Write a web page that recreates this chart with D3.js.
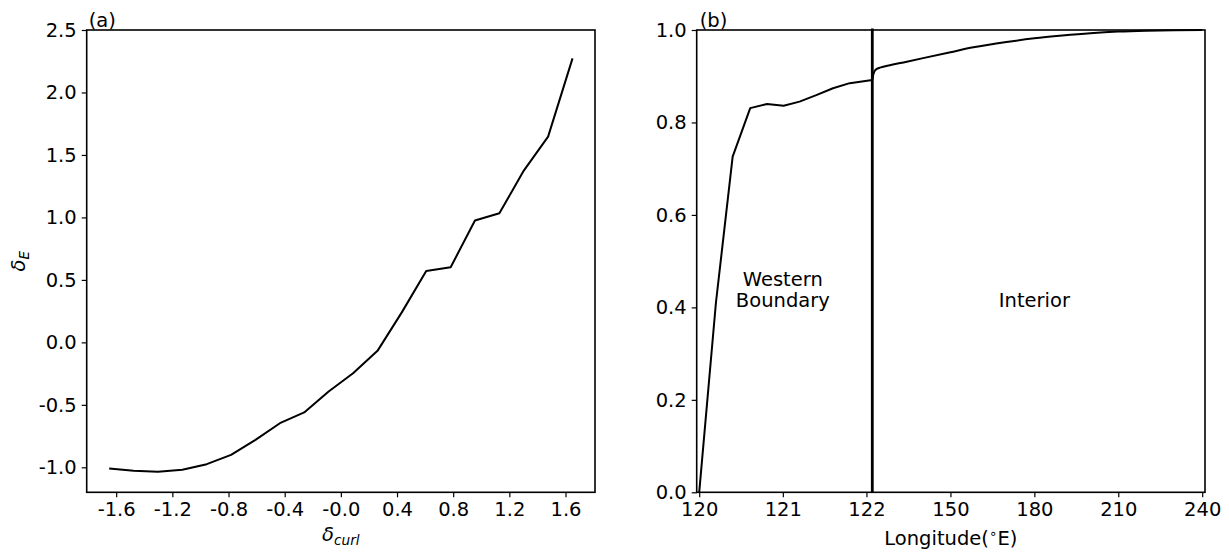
<!DOCTYPE html>
<html>
<head>
<meta charset="utf-8">
<script src="https://cdn.jsdelivr.net/npm/d3@7"></script>
<style>
  html, body { margin: 0; padding: 0; background: #fff; }
  svg { display: block; font-family: "DejaVu Sans", sans-serif; }
</style>
</head>
<body>
<svg id="fig" width="1229" height="552"></svg>
<script>
// ---- panel (a): delta_E against delta_curl ----
const curlValues = [-1.65, -1.476, -1.303, -1.129, -0.955, -0.782, -0.608, -0.434, -0.261, -0.087,
                    0.087, 0.261, 0.434, 0.608, 0.782, 0.955, 1.129, 1.303, 1.476, 1.65];
const deltaE = [-1.01, -1.028, -1.036, -1.02, -0.975, -0.90, -0.78, -0.647, -0.561, -0.393,
                -0.247, -0.068, 0.24, 0.572, 0.601, 0.975, 1.033, 1.375, 1.647, 2.273];
const curlTicks = [-1.6, -1.2, -0.8, -0.4, 0, 0.4, 0.8, 1.2, 1.6];
const curlTickLabels = ["-1.6", "-1.2", "-0.8", "-0.4", "-0.0", "0.4", "0.8", "1.2", "1.6"];
const deltaETicks = [-1.0, -0.5, 0.0, 0.5, 1.0, 1.5, 2.0, 2.5];
const deltaETickLabels = ["-1.0", "-0.5", "0.0", "0.5", "1.0", "1.5", "2.0", "2.5"];

// ---- panel (b): fraction along longitude ----
const westLon  = [120.0, 120.2, 120.4, 120.61, 120.81, 121.01, 121.2, 121.4, 121.6, 121.8, 122.07];
const westFrac = [0.0, 0.41, 0.726, 0.831, 0.840, 0.836, 0.845, 0.859, 0.874, 0.885, 0.892];
const interiorLon  = [122.07, 122.4, 122.8, 123.6, 124.8, 126, 134.4, 150, 158.2, 170, 180, 190, 200, 210, 220, 230, 240];
const interiorFrac = [0.892, 0.903, 0.910, 0.9155, 0.9185, 0.9205, 0.9315, 0.952, 0.9625, 0.974, 0.982, 0.988, 0.993, 0.9965, 0.9985, 0.9996, 1.0];
const boundaryLon = 122.07;
const lonTicks = [120, 121, 122, 150, 180, 210, 240];
const fracTicks = [0.0, 0.2, 0.4, 0.6, 0.8, 1.0];
const fracTickLabels = ["0.0", "0.2", "0.4", "0.6", "0.8", "1.0"];

const FS = 19.5;        // text size
const TICK = 5;         // tick length
const PAD = 5;          // tick label padding
const svg = d3.select("#fig");

const boxA = { left: 86.7, right: 595, top: 30, bottom: 492.3 };
const boxB = { left: 696.7, right: 1205, top: 30, bottom: 492.3 };

function styleAxis(g) {
  g.select(".domain").remove();
  g.selectAll(".tick line").attr("stroke", "#000").attr("stroke-width", 1.2);
  g.selectAll(".tick text")
    .attr("fill", "#000")
    .attr("font-size", FS)
    .attr("font-family", "DejaVu Sans, sans-serif");
  g.attr("font-size", null).attr("font-family", null);
}

function spines(box) {
  svg.append("rect")
    .attr("x", box.left).attr("y", box.top)
    .attr("width", box.right - box.left).attr("height", box.bottom - box.top)
    .attr("fill", "none").attr("stroke", "#000").attr("stroke-width", 1.6);
}

// ================= (a) =================
const xA = d3.scaleLinear().domain([-1.81, 1.81]).range([boxA.left, boxA.right]);
const yA = d3.scaleLinear().domain([-1.2, 2.5]).range([boxA.bottom, boxA.top]);

svg.append("path")
  .datum(curlValues.map((c, i) => [c, deltaE[i]]))
  .attr("fill", "none").attr("stroke", "#000").attr("stroke-width", 2)
  .attr("stroke-linejoin", "round")
  .attr("d", d3.line().x(d => xA(d[0])).y(d => yA(d[1])));

svg.append("g")
  .attr("transform", `translate(0,${boxA.bottom})`)
  .call(d3.axisBottom(xA).tickValues(curlTicks).tickSize(TICK).tickSizeOuter(0).tickPadding(PAD)
        .tickFormat((d, i) => curlTickLabels[i]))
  .call(styleAxis);

svg.append("g")
  .attr("transform", `translate(${boxA.left},0)`)
  .call(d3.axisLeft(yA).tickValues(deltaETicks).tickSize(TICK).tickSizeOuter(0).tickPadding(PAD)
        .tickFormat((d, i) => deltaETickLabels[i]))
  .call(styleAxis);

spines(boxA);

// axis titles for (a)
const xlabA = svg.append("text")
  .attr("x", (boxA.left + boxA.right) / 2).attr("y", 541)
  .attr("text-anchor", "middle").attr("font-size", FS).attr("fill", "#000");
xlabA.append("tspan").attr("font-style", "italic").text("\u03b4");
xlabA.append("tspan").attr("font-style", "italic").attr("font-size", FS * 0.7).attr("dy", 4).text("curl");

const ylabA = svg.append("text")
  .attr("transform", `translate(25,${(boxA.top + boxA.bottom) / 2}) rotate(-90)`)
  .attr("text-anchor", "middle").attr("font-size", FS).attr("fill", "#000");
ylabA.append("tspan").attr("font-style", "italic").text("\u03b4");
ylabA.append("tspan").attr("font-style", "italic").attr("font-size", FS * 0.7).attr("dy", 4).text("E");

svg.append("text").attr("x", boxA.left + 2).attr("y", 27)
  .attr("font-size", FS).attr("fill", "#000").text("(a)");

// ================= (b) =================
// western boundary is stretched, interior compressed
const xB = d3.scaleLinear()
  .domain([119.97, boundaryLon, 241.0])
  .range([boxB.left, 872.3, boxB.right]);
const yB = d3.scaleLinear().domain([0, 1]).range([boxB.bottom, boxB.top]);

const lineB = d3.line().x(d => xB(d[0])).y(d => yB(d[1]));
svg.append("path")
  .datum(westLon.map((l, i) => [l, westFrac[i]]))
  .attr("fill", "none").attr("stroke", "#000").attr("stroke-width", 2)
  .attr("stroke-linejoin", "round").attr("d", lineB);
svg.append("path")
  .datum(interiorLon.map((l, i) => [l, interiorFrac[i]]))
  .attr("fill", "none").attr("stroke", "#000").attr("stroke-width", 2)
  .attr("stroke-linejoin", "round").attr("d", d3.line().curve(d3.curveMonotoneX).x(d => xB(d[0])).y(d => yB(d[1])));

// boundary between western boundary and interior regions
svg.append("line")
  .attr("x1", xB(boundaryLon)).attr("x2", xB(boundaryLon))
  .attr("y1", yB(0)).attr("y2", yB(1) - 1.5)
  .attr("stroke", "#000").attr("stroke-width", 2.8);

svg.append("g")
  .attr("transform", `translate(0,${boxB.bottom})`)
  .call(d3.axisBottom(xB).tickValues(lonTicks).tickSize(TICK).tickSizeOuter(0).tickPadding(PAD)
        .tickFormat(d3.format("d")))
  .call(styleAxis);

svg.append("g")
  .attr("transform", `translate(${boxB.left},0)`)
  .call(d3.axisLeft(yB).tickValues(fracTicks).tickSize(TICK).tickSizeOuter(0).tickPadding(PAD)
        .tickFormat((d, i) => fracTickLabels[i]))
  .call(styleAxis);

spines(boxB);

const xlabB = svg.append("text")
  .attr("x", (boxB.left + boxB.right) / 2).attr("y", 545)
  .attr("text-anchor", "middle").attr("font-size", FS).attr("fill", "#000");
xlabB.append("tspan").text("Longitude(");
xlabB.append("tspan").attr("font-size", FS * 0.7).attr("dy", -7).text("\u2218");
xlabB.append("tspan").attr("dy", 7).text("E)");

svg.append("text").attr("x", boxB.left + 3).attr("y", 27)
  .attr("font-size", FS).attr("fill", "#000").text("(b)");

// region annotations
const regionY = yB(0.4);
svg.append("text").attr("x", xB(121)).attr("y", regionY - 21)
  .attr("text-anchor", "middle").attr("font-size", FS).attr("fill", "#000").text("Western");
svg.append("text").attr("x", xB(121)).attr("y", regionY)
  .attr("text-anchor", "middle").attr("font-size", FS).attr("fill", "#000").text("Boundary");
svg.append("text").attr("x", xB(180)).attr("y", regionY)
  .attr("text-anchor", "middle").attr("font-size", FS).attr("fill", "#000").text("Interior");
</script>
</body>
</html>
